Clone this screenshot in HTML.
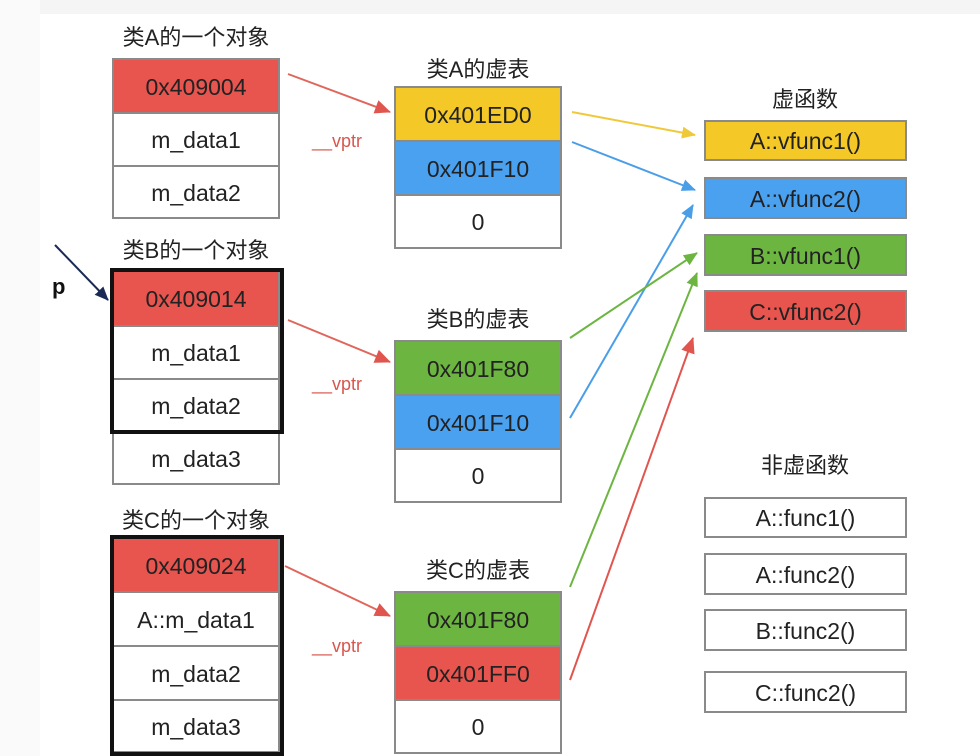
<!DOCTYPE html>
<html><head><meta charset="utf-8"><style>
body{margin:0;width:980px;height:756px;background:#fff;overflow:hidden;font-family:"Liberation Sans","Noto Sans CJK SC",sans-serif;}
.b{position:absolute;box-sizing:border-box;border:2px solid #8a8a8a;display:flex;align-items:center;justify-content:center;font-size:23px;color:#222;padding-top:2px;}
.t{position:absolute;font-size:22px;color:#222;transform:translateX(-50%);white-space:nowrap;}
.thick{position:absolute;box-sizing:border-box;border:4px solid #111;}
.r{background:#e8544e}.y{background:#f4c826}.bl{background:#4aa1f0}.g{background:#6db541}.w{background:#fff}
.v{position:absolute;color:#d9564f;font-size:18px;}
</style></head><body>
<div style="position:absolute;left:0;top:0;width:980px;height:14px;background:#f5f5f5"></div>
<div style="position:absolute;left:0;top:0;width:40px;height:756px;background:#fafafa"></div>

<div class="t" style="left:196px;top:20px">类A的一个对象</div>
<div class="b r" style="left:112px;top:58px;width:168px;height:56px">0x409004</div>
<div class="b w" style="left:112px;top:112px;width:168px;height:55px">m_data1</div>
<div class="b w" style="left:112px;top:165px;width:168px;height:54px">m_data2</div>

<div class="t" style="left:196px;top:233px">类B的一个对象</div>
<div class="b r" style="left:112px;top:270px;width:168px;height:57px">0x409014</div>
<div class="b w" style="left:112px;top:325px;width:168px;height:55px">m_data1</div>
<div class="b w" style="left:112px;top:378px;width:168px;height:55px">m_data2</div>
<div class="b w" style="left:112px;top:431px;width:168px;height:54px">m_data3</div>
<div class="thick" style="left:110px;top:268px;width:174px;height:166px"></div>

<div class="t" style="left:196px;top:503px">类C的一个对象</div>
<div class="b r" style="left:112px;top:537px;width:168px;height:56px">0x409024</div>
<div class="b w" style="left:112px;top:591px;width:168px;height:56px">A::m_data1</div>
<div class="b w" style="left:112px;top:645px;width:168px;height:56px">m_data2</div>
<div class="b w" style="left:112px;top:699px;width:168px;height:54px">m_data3</div>
<div class="thick" style="left:110px;top:535px;width:174px;height:221px"></div>

<div class="t" style="left:478px;top:52px">类A的虚表</div>
<div class="b y" style="left:394px;top:86px;width:168px;height:56px">0x401ED0</div>
<div class="b bl" style="left:394px;top:140px;width:168px;height:56px">0x401F10</div>
<div class="b w" style="left:394px;top:194px;width:168px;height:55px">0</div>

<div class="t" style="left:478px;top:302px">类B的虚表</div>
<div class="b g" style="left:394px;top:340px;width:168px;height:56px">0x401F80</div>
<div class="b bl" style="left:394px;top:394px;width:168px;height:56px">0x401F10</div>
<div class="b w" style="left:394px;top:448px;width:168px;height:55px">0</div>

<div class="t" style="left:478px;top:553px">类C的虚表</div>
<div class="b g" style="left:394px;top:591px;width:168px;height:56px">0x401F80</div>
<div class="b r" style="left:394px;top:645px;width:168px;height:56px">0x401FF0</div>
<div class="b w" style="left:394px;top:699px;width:168px;height:55px">0</div>

<div class="t" style="left:805px;top:82px">虚函数</div>
<div class="b y" style="left:704px;top:120px;width:203px;height:41px">A::vfunc1()</div>
<div class="b bl" style="left:704px;top:177px;width:203px;height:42px">A::vfunc2()</div>
<div class="b g" style="left:704px;top:234px;width:203px;height:42px">B::vfunc1()</div>
<div class="b r" style="left:704px;top:290px;width:203px;height:42px">C::vfunc2()</div>

<div class="t" style="left:805px;top:448px">非虚函数</div>
<div class="b w" style="left:704px;top:497px;width:203px;height:41px">A::func1()</div>
<div class="b w" style="left:704px;top:553px;width:203px;height:42px">A::func2()</div>
<div class="b w" style="left:704px;top:609px;width:203px;height:42px">B::func2()</div>
<div class="b w" style="left:704px;top:671px;width:203px;height:42px">C::func2()</div>

<div class="v" style="left:312px;top:131px">__vptr</div>
<div class="v" style="left:312px;top:374px">__vptr</div>
<div class="v" style="left:312px;top:636px">__vptr</div>
<div style="position:absolute;left:52px;top:274px;font-size:22px;font-weight:bold;color:#111">p</div>

<svg width="980" height="756" style="position:absolute;left:0;top:0">
<defs>
<marker id="my" markerWidth="14" markerHeight="12" refX="13" refY="6" orient="auto" markerUnits="userSpaceOnUse"><path d="M0,0L14,6L0,12z" fill="#f0c93a"/></marker>
<marker id="mb" markerWidth="14" markerHeight="12" refX="13" refY="6" orient="auto" markerUnits="userSpaceOnUse"><path d="M0,0L14,6L0,12z" fill="#4a9ee8"/></marker>
<marker id="mg" markerWidth="14" markerHeight="12" refX="13" refY="6" orient="auto" markerUnits="userSpaceOnUse"><path d="M0,0L14,6L0,12z" fill="#6db541"/></marker>
<marker id="mrr" markerWidth="16" markerHeight="14" refX="15" refY="7" orient="auto" markerUnits="userSpaceOnUse"><path d="M0,0L16,7L0,14z" fill="#e0564f"/></marker>
<marker id="mk" markerWidth="14" markerHeight="12" refX="13" refY="6" orient="auto" markerUnits="userSpaceOnUse"><path d="M0,0L14,6L0,12z" fill="#1a2a55"/></marker>
</defs>
<g stroke-width="2" fill="none">
<line x1="288" y1="74" x2="390" y2="112" stroke="#e0665c" marker-end="url(#mrr)"/>
<line x1="288" y1="320" x2="390" y2="362" stroke="#e0665c" marker-end="url(#mrr)"/>
<line x1="285" y1="566" x2="390" y2="616" stroke="#e0665c" marker-end="url(#mrr)"/>
<line x1="572" y1="112" x2="695" y2="135" stroke="#f0c93a" marker-end="url(#my)"/>
<line x1="572" y1="142" x2="695" y2="190" stroke="#4a9ee8" marker-end="url(#mb)"/>
<line x1="570" y1="418" x2="693" y2="205" stroke="#4a9ee8" marker-end="url(#mb)"/>
<line x1="570" y1="338" x2="697" y2="253" stroke="#6db541" marker-end="url(#mg)"/>
<line x1="570" y1="587" x2="697" y2="273" stroke="#6db541" marker-end="url(#mg)"/>
<line x1="570" y1="680" x2="693" y2="338" stroke="#e0564f" marker-end="url(#mrr)"/>
<line x1="55" y1="245" x2="108" y2="300" stroke="#1a2a55" marker-end="url(#mk)"/>
</g>
</svg>
</body></html>
